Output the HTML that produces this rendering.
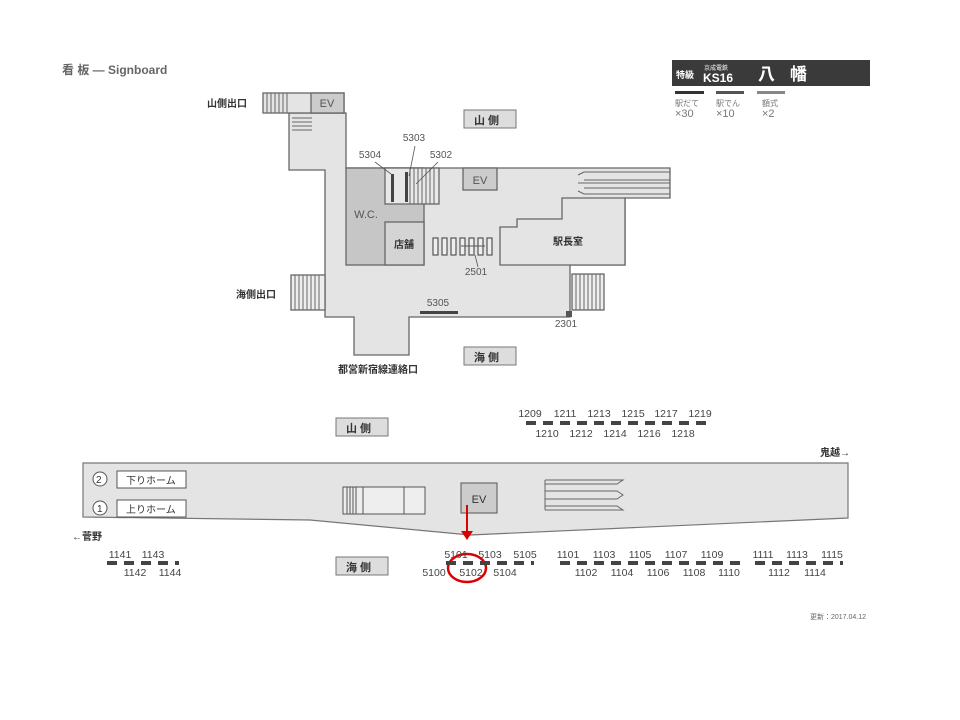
<!DOCTYPE html>
<html><head><meta charset="utf-8"><style>
html,body{margin:0;padding:0;background:#fff;}
svg{display:block;font-family:"Liberation Sans","Noto Sans CJK JP",sans-serif;}
.n{font-size:10.5px;fill:#444;text-anchor:middle;font-family:"Liberation Sans Narrow","Liberation Sans",sans-serif;}
.l{font-size:10px;fill:#333;font-weight:bold;}
</style></head><body>
<svg width="960" height="720" viewBox="0 0 960 720" xmlns="http://www.w3.org/2000/svg">
<text x="62" y="74" font-size="12" font-weight="bold" fill="#666">看 板 — Signboard</text>
<!-- header -->
<rect x="672" y="60" width="198" height="26" fill="#3a3a3a"/>
<text x="676" y="78" font-size="9" fill="#fff" font-weight="bold">特級</text>
<text x="704" y="70" font-size="6" fill="#fff">京成電鉄</text>
<text x="703" y="82" font-size="12" fill="#fff" font-weight="bold">KS16</text>
<text x="758" y="80" font-size="17" fill="#fff" font-weight="bold">八</text>
<text x="790" y="80" font-size="17" fill="#fff" font-weight="bold">幡</text>
<rect x="675" y="91" width="29" height="3" fill="#333"/>
<rect x="716" y="91" width="28" height="3" fill="#555"/>
<rect x="757" y="91" width="28" height="3" fill="#888"/>
<g font-size="8" fill="#777"><text x="675" y="106">駅だて</text><text x="716" y="106">駅でん</text><text x="762" y="106">額式</text>
<text x="675" y="117" font-size="11">×30</text><text x="716" y="117" font-size="11">×10</text><text x="762" y="117" font-size="11">×2</text></g>
<!-- floor plan -->
<g stroke="#666" stroke-width="1.3">
<polygon points="289,113 346,113 346,168 670,168 670,198 625,198 625,265 570,265 570,317 409,317 409,355 354,355 354,317 325,317 325,170 289,170" fill="#e4e4e4"/>
<rect x="263" y="93" width="81" height="20" fill="#e4e4e4"/>
<rect x="311" y="93" width="33" height="20" fill="#ccc"/>
<rect x="346" y="168" width="78" height="97" fill="#c6c6c6"/>
<rect x="385" y="222" width="39" height="43" fill="#d4d4d4"/>
<rect x="385" y="168" width="54" height="36" fill="#e8e8e8"/>
<rect x="463" y="168" width="34" height="22" fill="#ccc"/>
<polygon points="500,227 517,227 517,219 562,219 562,198 625,198 625,265 500,265" fill="#e4e4e4"/>
<rect x="291" y="275" width="34" height="35" fill="#eee"/>
<rect x="572" y="274" width="32" height="36" fill="#eee"/>
</g>
<g stroke="#666" stroke-width="1">
<path d="M267 93v20M271 93v20M275 93v20M279 93v20M283 93v20M287 93v20"/>
<path d="M292 118h20M292 122h20M292 126h20M292 130h20"/>
<path d="M295 275v35M299 275v35M303 275v35M307 275v35M311 275v35M315 275v35M319 275v35"/>
<path d="M576 274v36M580 274v36M584 274v36M588 274v36M592 274v36M596 274v36M600 274v36"/>
<path d="M410 168v36M414 168v36M418 168v36M422 168v36M426 168v36M430 168v36M434 168v36"/>
<path d="M584 172h86M584 180h86M584 188h86M584 194h86M584 172l-6 3M584 194l-6 -3M578 183h92"/>
</g>
<rect x="391" y="174" width="3" height="28" fill="#444"/>
<rect x="405" y="172" width="3" height="30" fill="#444"/>
<g fill="#eee" stroke="#555" stroke-width="1.2">
<rect x="433" y="238" width="5" height="17"/><rect x="442" y="238" width="5" height="17"/><rect x="451" y="238" width="5" height="17"/><rect x="460" y="238" width="5" height="17"/><rect x="469" y="238" width="5" height="17"/><rect x="478" y="238" width="5" height="17"/><rect x="487" y="238" width="5" height="17"/></g>
<path d="M461 246h24" stroke="#555"/>
<g stroke="#555" stroke-width="0.8"><path d="M375 162l16 12M415 146l-6 30M438 162l-22 22M475 255l3 12"/></g>
<rect x="420" y="311" width="38" height="3" fill="#444"/>
<path d="M566 311h6v6h-6z" fill="#555"/>
<g font-size="10" fill="#555" text-anchor="middle" font-family="Liberation Sans,sans-serif">
<text x="414" y="141">5303</text><text x="370" y="158">5304</text><text x="441" y="158">5302</text>
<text x="476" y="275">2501</text><text x="566" y="327">2301</text><text x="438" y="306">5305</text>
<text x="327" y="107" font-size="11">EV</text><text x="480" y="184" font-size="11">EV</text>
<text x="366" y="218" font-size="11">W.C.</text></g>
<text x="394" y="248" class="l" font-size="10">店舗</text>
<text x="553" y="245" class="l" font-size="10">駅長室</text>
<text x="207" y="107" class="l">山側出口</text>
<text x="236" y="298" class="l">海側出口</text>
<text x="338" y="373" class="l">都営新宿線連絡口</text>
<g stroke="#777" fill="#ddd"><rect x="464" y="110" width="52" height="18"/><rect x="464" y="347" width="52" height="18"/><rect x="336" y="418" width="52" height="18"/><rect x="336" y="557" width="52" height="18"/></g>
<g font-size="11" fill="#333" font-weight="bold"><text x="474" y="124">山 側</text><text x="474" y="361">海 側</text><text x="346" y="432">山 側</text><text x="346" y="571">海 側</text></g>
<!-- platform -->
<polygon points="83,463 848,463 848,518 470,535 310,520 83,517" fill="#e4e4e4" stroke="#777" stroke-width="1.2"/>
<g stroke="#555" fill="#fff"><circle cx="100" cy="479" r="7"/><circle cx="100" cy="508" r="7"/>
<rect x="117" y="471" width="69" height="17"/><rect x="117" y="500" width="69" height="17"/></g>
<g font-size="10" fill="#333"><text x="96" y="483">2</text><text x="97" y="512">1</text><text x="126" y="484">下りホーム</text><text x="126" y="513">上りホーム</text></g>
<rect x="343" y="487" width="82" height="27" fill="#eee" stroke="#555"/>
<path d="M347 487v27M350 487v27M353 487v27M356 487v27M363 487v27M404 487v27" stroke="#555"/>
<rect x="461" y="483" width="36" height="30" fill="#ccc" stroke="#555"/>
<text x="479" y="503" font-size="11" fill="#333" text-anchor="middle">EV</text>
<g stroke="#666" fill="none"><path d="M545 480h78l-6 4h-72M545 510h78l-6 -4h-72M545 491h72l6 4l-6 4h-72M545 480v30"/></g>
<path d="M467 505v30" stroke="#d00" stroke-width="2"/><path d="M461 531l6 9 6-9z" fill="#d00"/>
<ellipse cx="467" cy="568" rx="19" ry="14" fill="none" stroke="#d00" stroke-width="2.5"/>
<text x="820" y="456" class="l" font-size="9">鬼越→</text>
<text x="72" y="540" class="l" font-size="9">←菅野</text>
<!-- numbers -->
<g class="n">
<text x="530" y="417">1209</text><text x="565" y="417">1211</text><text x="599" y="417">1213</text><text x="633" y="417">1215</text><text x="666" y="417">1217</text><text x="700" y="417">1219</text>
<text x="547" y="437">1210</text><text x="581" y="437">1212</text><text x="615" y="437">1214</text><text x="649" y="437">1216</text><text x="683" y="437">1218</text>
<text x="120" y="558">1141</text><text x="153" y="558">1143</text><text x="135" y="576">1142</text><text x="170" y="576">1144</text>
<text x="456" y="558">5101</text><text x="490" y="558">5103</text><text x="525" y="558">5105</text><text x="434" y="576">5100</text><text x="471" y="576">5102</text><text x="505" y="576">5104</text>
<text x="568" y="558">1101</text><text x="604" y="558">1103</text><text x="640" y="558">1105</text><text x="676" y="558">1107</text><text x="712" y="558">1109</text>
<text x="586" y="576">1102</text><text x="622" y="576">1104</text><text x="658" y="576">1106</text><text x="694" y="576">1108</text><text x="729" y="576">1110</text>
<text x="763" y="558">1111</text><text x="797" y="558">1113</text><text x="832" y="558">1115</text><text x="779" y="576">1112</text><text x="815" y="576">1114</text>
</g>
<g stroke="#444" stroke-width="4" stroke-dasharray="10 7">
<path d="M526 423h186"/><path d="M107 563h72"/><path d="M446 563h88"/><path d="M560 563h180"/><path d="M755 563h88"/>
</g>
<text x="810" y="619" font-size="7" fill="#666">更新：2017.04.12</text>
</svg>
</body></html>
